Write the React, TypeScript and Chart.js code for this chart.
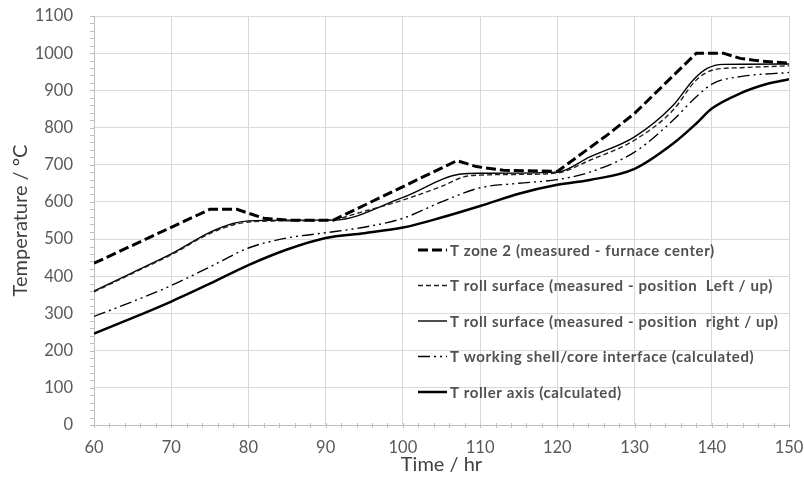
import { useEffect, useRef } from 'react';
import { Chart, registerables } from 'chart.js';

Chart.register(...registerables);

// ---- data (hours, °C) ----
const zoneHours = [60, 75, 78.5, 82, 85, 91, 107, 109.5, 113, 120, 126.4, 130, 138, 141.5, 143.7, 145.8, 150];
const zoneTemps = [435, 580, 580, 556, 551, 551, 711, 695, 685, 682, 779, 838, 1000, 1000, 986, 980, 973];

const leftHours = [60, 65, 70, 75, 78, 80, 85, 90, 95, 100, 105, 108, 110, 115, 120, 124.2, 130, 135, 138, 140.2, 143.7, 150];
const leftTemps = [358, 408, 458, 515, 538, 546, 549, 550, 575, 605, 642, 668, 672, 674, 678, 712, 766, 847, 928, 955, 961, 966];

const rightHours = [60, 65, 70, 75, 78, 80, 85, 91, 100, 107.5, 110, 120, 124.2, 130, 135, 137.6, 139.4, 141.5, 150];
const rightTemps = [360, 410, 460, 518, 542, 549, 551, 551, 612, 675, 677, 680, 721, 775, 860, 928, 959, 970, 971];

const shellHours = [60, 65, 70, 75, 80, 85, 90, 95, 100, 105, 110, 115, 120, 124.2, 130, 135, 138, 140.2, 143.7, 150];
const shellTemps = [292, 332, 375, 425, 476, 503, 517, 532, 556, 600, 638, 650, 660, 680, 734, 820, 883, 919, 937, 948];

const axisHours = [60, 65, 70, 75, 80, 85, 90, 95, 100, 105, 110, 115, 120, 124.2, 130, 135, 138, 140, 143.7, 147.1, 150];
const axisTemps = [246, 288, 332, 380, 430, 472, 503, 516, 531, 558, 589, 622, 646, 659, 689, 757, 811, 851, 892, 917, 930];

const seriesLabels = [
  'T zone 2 (measured - furnace center)',
  'T roll surface (measured - position  Left / up)',
  'T roll surface (measured - position  right / up)',
  'T working shell/core interface (calculated)',
  'T roller axis (calculated)',
];

const xMin = 60;
const xMax = 150;
const xMajor = 10;
const xMinor = 2;
const yMin = 0;
const yMax = 1100;
const yMajor = 100;
const yMinor = 20;

const xTitle = 'Time / hr';
const yTitle = 'Temperature / °C';

const FONT = 'Lato, "Open Sans", sans-serif';

function pts(xs: number[], ys: number[]) {
  return xs.map((x, i) => ({ x, y: ys[i] }));
}

const tickMarks = {
  id: 'tickMarks',
  beforeDatasetsDraw(chart: any) {
    const { ctx, chartArea, scales } = chart;
    ctx.save();
    ctx.strokeStyle = '#bfbfbf';
    ctx.lineWidth = 1;
    ctx.beginPath();
    scales.x.ticks.forEach((t: any) => {
      const px = Math.round(scales.x.getPixelForValue(t.value)) + 0.5;
      ctx.moveTo(px, chartArea.bottom - 2);
      ctx.lineTo(px, chartArea.bottom + 3);
    });
    scales.y.ticks.forEach((t: any) => {
      const py = Math.round(scales.y.getPixelForValue(t.value)) + 0.5;
      ctx.moveTo(chartArea.left - 4, py);
      ctx.lineTo(chartArea.left + 1, py);
    });
    ctx.stroke();
    ctx.restore();
  },
};

const insideLegend = {
  id: 'insideLegend',
  afterDatasetsDraw(chart: any) {
    const { ctx, chartArea } = chart;
    ctx.save();
    chart.data.datasets.forEach((ds: any, i: number) => {
      const y = chartArea.top + 234 + i * 35.5;
      const x0 = chartArea.left + 324;
      ctx.beginPath();
      ctx.setLineDash(ds.borderDash || []);
      ctx.lineWidth = ds.borderWidth;
      ctx.strokeStyle = ds.borderColor;
      ctx.moveTo(x0, y);
      ctx.lineTo(x0 + 29, y);
      ctx.stroke();
      ctx.setLineDash([]);
      ctx.fillStyle = '#505050';
      ctx.font = 'bold 15px ' + FONT;
      try { (ctx as any).letterSpacing = '0.6px'; } catch (e) { /* ignore */ }
      ctx.textBaseline = 'middle';
      ctx.textAlign = 'left';
      ctx.fillText(ds.label, x0 + 32, y + 1);
    });
    ctx.restore();
  },
};

export default function App() {
  const ref = useRef<HTMLCanvasElement | null>(null);

  useEffect(() => {
    if (!ref.current) return;
    const styles = [
      { dash: [10, 4], width: 3, tension: 0 },
      { dash: [5, 3], width: 1.4, tension: 0.4 },
      { dash: [], width: 1.4, tension: 0.4 },
      { dash: [12, 4, 2, 4, 2, 4], width: 1.4, tension: 0.4 },
      { dash: [], width: 2.5, tension: 0.4 },
    ];
    const series = [
      pts(zoneHours, zoneTemps),
      pts(leftHours, leftTemps),
      pts(rightHours, rightTemps),
      pts(shellHours, shellTemps),
      pts(axisHours, axisTemps),
    ];
    const chart = new Chart(ref.current, {
      type: 'line',
      data: {
        datasets: series.map((data, i) => ({
          label: seriesLabels[i],
          data,
          borderColor: i === 1 ? '#222222' : '#000000',
          borderWidth: styles[i].width,
          borderDash: styles[i].dash,
          pointRadius: 0,
          fill: false,
          tension: styles[i].tension,
          cubicInterpolationMode: i === 0 ? ('default' as const) : ('monotone' as const),
        })),
      },
      plugins: [tickMarks, insideLegend],
      options: {
        responsive: false,
        animation: false,
        devicePixelRatio: 1,
        layout: { padding: { left: 0, top: 16, right: 15, bottom: 0 } },
        plugins: { legend: { display: false }, tooltip: { enabled: false } },
        scales: {
          x: {
            type: 'linear',
            min: xMin,
            max: xMax,
            afterFit: (s: any) => { s.height = 52; },
            ticks: {
              stepSize: xMinor,
              autoSkip: false,
              maxRotation: 0,
              padding: 0,
              color: '#595959',
              font: { family: FONT, size: 16.5 },
              callback: (v: any) => (Number(v) % xMajor === 0 ? String(v) : ''),
            },
            grid: {
              color: (c: any) => (c.tick && c.tick.value % xMajor === 0 ? '#d9d9d9' : 'rgba(0,0,0,0)'),
              tickColor: 'rgba(0,0,0,0)',
              tickLength: 13,
              lineWidth: 1,
            },
            border: { color: '#bfbfbf', width: 1 },
            title: {
              display: true,
              text: xTitle,
              color: '#404040',
              font: { family: FONT, size: 20 },
              padding: { top: 0, bottom: 0 },
            },
          },
          y: {
            type: 'linear',
            min: yMin,
            max: yMax,
            afterFit: (s: any) => { s.width = 94; },
            ticks: {
              stepSize: yMinor,
              autoSkip: false,
              padding: 0,
              color: '#595959',
              font: { family: FONT, size: 16.5 },
              callback: (v: any) => (Number(v) % yMajor === 0 ? String(v) : ''),
            },
            grid: {
              color: (c: any) => (c.tick && c.tick.value % yMajor === 0 ? '#d9d9d9' : 'rgba(0,0,0,0)'),
              tickColor: 'rgba(0,0,0,0)',
              tickLength: 21,
              lineWidth: 1,
            },
            border: { color: '#bfbfbf', width: 1 },
            title: {
              display: true,
              text: yTitle,
              color: '#404040',
              font: { family: FONT, size: 20 },
              padding: { top: 9, bottom: 0 },
            },
          },
        },
      },
    });
    return () => chart.destroy();
  }, []);

  return (
    <div style={{ position: 'absolute', left: 0, top: 0, width: 804, height: 477, background: '#fff' }}>
      <canvas ref={ref} width={804} height={477} />
    </div>
  );
}
